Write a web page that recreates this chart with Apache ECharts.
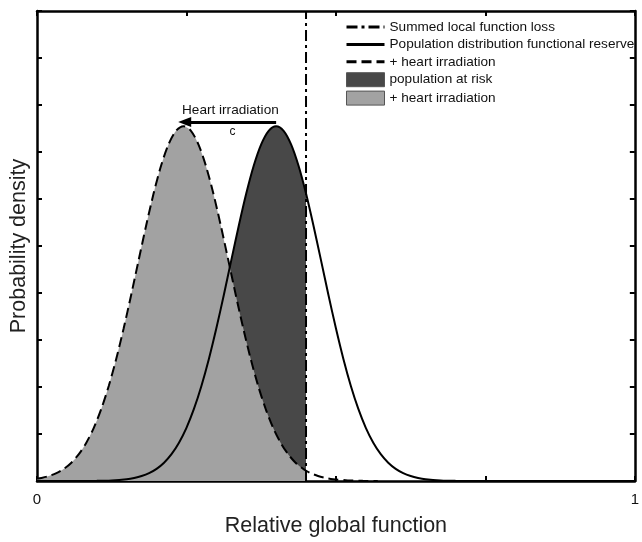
<!DOCTYPE html>
<html><head><meta charset="utf-8">
<script src="https://cdn.jsdelivr.net/npm/echarts@6/dist/echarts.min.js"></script>
<style>html,body{margin:0;padding:0;background:#fff}#c{width:642px;height:542px}</style>
</head><body><div id="c"></div>
<script>
// Population distribution of functional reserve (solid)
const solidX = [0,0.05,0.1,0.125,0.15,
  0.1625,0.175,0.1875,0.2,0.2125,0.225,0.2375,0.25,0.2625,0.275,0.2875,0.3,0.3125,0.325,0.3375,0.35,0.3625,0.375,0.3875,
  0.4,0.4125,0.425,0.4375,0.45,0.4625,0.475,0.4875,0.5,0.5125,0.525,0.5375,0.55,0.5625,0.575,0.5875,0.6,0.6125,0.625,0.6375,
  0.65,0.675,0.7,0.75,0.8,0.9,1];
const solidY = [0,0,0.0004,0.0013,0.0039,
  0.0065,0.0106,0.0168,0.0259,0.0390,0.0571,0.0815,0.1132,0.1533,0.2022,0.2597,0.3249,0.3959,0.4699,0.5431,0.6115,0.6706,0.7162,0.7451,
  0.755,0.7451,0.7162,0.6706,0.6115,0.5431,0.4699,0.3959,0.3249,0.2597,0.2022,0.1533,0.1132,0.0815,0.0571,0.0390,0.0259,0.0168,0.0106,0.0065,
  0.0039,0.0013,0.0004,0,0,0,0];
// + heart irradiation (dashed)
const dashX = [0,0.0075,0.02,0.0325,0.045,0.0575,0.07,0.0825,0.095,0.1075,0.12,0.1325,0.145,0.1575,0.17,0.1825,0.195,0.2075,0.22,0.2325,
  0.245,0.2575,0.27,0.2825,0.295,0.3075,0.32,0.3325,0.345,0.3575,0.37,0.3825,0.395,0.4075,0.42,0.4325,0.445,0.45,0.4575,0.47,0.4825,0.495,0.52,0.545,0.57];
const dashY = [0.0048,0.0065,0.0106,0.0168,0.0259,0.0390,0.0571,0.0815,0.1132,0.1533,0.2022,0.2597,0.3249,0.3959,0.4699,0.5431,0.6115,0.6706,0.7162,0.7451,
  0.755,0.7451,0.7162,0.6706,0.6115,0.5431,0.4699,0.3959,0.3249,0.2597,0.2022,0.1533,0.1132,0.0815,0.0571,0.0390,0.0259,0.0218,0.0168,0.0106,0.0065,0.0039,0.0013,0.0004,0];
// Summed local function loss (vertical dash-dot line)
const lossX = 0.45;
const lossYRange = [0, 1];
// Arrow annotation
const arrowFrom = [0.40, 0.764];
const arrowTo = [0.247, 0.764];
const xTickLabels = {0: '0', 1: '1'};
const names = ['Summed local function loss', 'Population distribution functional reserve', '+ heart irradiation', 'population at risk', '+ heart irradiation '];

const pairs = (xs, ys) => xs.map((x, i) => [x, ys[i]]);
const upTo = (xs, ys, lim) => pairs(xs, ys).filter(p => p[0] <= lim + 1e-9);

const FONT = 'Liberation Sans, Arial, sans-serif';
const chart = echarts.init(document.getElementById('c'), null, {renderer: 'canvas'});
const axisCommon = {
  type: 'value', min: 0, max: 1,
  axisLine: {show: true, onZero: false, lineStyle: {color: '#000', width: 2.5}},
  axisTick: {show: true, inside: true, length: 5, lineStyle: {color: '#000', width: 2}},
  splitLine: {show: false}
};
const hideSym = {color: 'rgba(0,0,0,0)', borderWidth: 0, opacity: 0};
const SM = 0.3;
chart.setOption({
  animation: false,
  backgroundColor: '#fff',
  textStyle: {fontFamily: FONT},
  grid: {left: 37, right: 3, top: 11, bottom: 55, containLabel: false},
  legend: {
    orient: 'vertical', left: 345, top: 20, padding: 0,
    itemWidth: 38, itemHeight: 14, itemGap: 3.4,
    textStyle: {fontSize: 13.6, color: '#111', fontFamily: FONT},
    formatter: n => n.trim(),
    selectedMode: false,
    data: [
      {name: names[0], itemStyle: hideSym, lineStyle: {width: 3}},
      {name: names[1], itemStyle: hideSym, lineStyle: {width: 3}},
      {name: names[2], itemStyle: hideSym, lineStyle: {width: 3}},
      {name: names[3], icon: 'rect', itemStyle: {color: '#484848', borderColor: '#555', borderWidth: 1}},
      {name: names[4], icon: 'rect', itemStyle: {color: '#a2a2a2', borderColor: '#555', borderWidth: 1}}
    ]
  },
  xAxis: [
    Object.assign({}, axisCommon, {
      position: 'bottom', interval: 0.25,
      axisLabel: {show: true, fontSize: 15, color: '#111', margin: 11, fontFamily: FONT,
        formatter: v => (xTickLabels[v] !== undefined ? xTickLabels[v] : '')},
      name: 'Relative global function', nameLocation: 'middle', nameGap: 34,
      nameTextStyle: {fontSize: 21.5, color: '#222', fontFamily: FONT}
    }),
    Object.assign({}, axisCommon, {position: 'top', interval: 0.25, axisLabel: {show: false}})
  ],
  yAxis: [
    Object.assign({}, axisCommon, {
      position: 'left', interval: 0.1, axisLabel: {show: false},
      name: 'Probability density', nameLocation: 'middle', nameGap: 7,
      nameTextStyle: {fontSize: 21.5, color: '#222', fontFamily: FONT}
    }),
    Object.assign({}, axisCommon, {position: 'right', interval: 0.1, axisLabel: {show: false}})
  ],
  series: [
    {name: names[3], type: 'line', smooth: SM, symbol: 'none', z: 1,
      data: upTo(solidX, solidY, lossX), lineStyle: {width: 0}, itemStyle: {color: '#484848'},
      areaStyle: {color: '#484848', opacity: 1}},
    {name: names[4], type: 'line', smooth: SM, symbol: 'none', z: 2,
      data: upTo(dashX, dashY, lossX), lineStyle: {width: 0}, itemStyle: {color: '#a2a2a2'},
      areaStyle: {color: '#a2a2a2', opacity: 1}},
    {name: names[1], type: 'line', smooth: SM, symbol: 'none', z: 3,
      data: pairs(solidX, solidY), lineStyle: {color: '#000', width: 2}, itemStyle: {color: '#000'},
      markLine: {
        silent: true, symbol: ['none', 'triangle'], symbolSize: [10, 13],
        lineStyle: {color: '#000', width: 3, type: 'solid'},
        label: {show: true, position: 'middle', formatter: 'Heart irradiation', fontSize: 13.6, color: '#111', fontFamily: FONT, distance: 5},
        data: [[{coord: arrowFrom}, {coord: arrowTo}]]
      }},
    {name: names[2], type: 'line', smooth: SM, symbol: 'none', z: 4,
      data: pairs(dashX, dashY), lineStyle: {color: '#000', width: 2, type: [10, 5]}, itemStyle: {color: '#000'}},
    {name: names[0], type: 'line', symbol: 'none', z: 5,
      data: [[lossX, lossYRange[0]], [lossX, lossYRange[1]]],
      lineStyle: {color: '#000', width: 2, type: [11, 4, 3, 4]}, itemStyle: {color: '#000'}}
  ]
});
const cPos = chart.convertToPixel({gridIndex: 0}, [(arrowFrom[0] + arrowTo[0]) / 2, arrowFrom[1]]);
chart.setOption({graphic: [{type: 'text', x: cPos[0] + 2, y: cPos[1] + 10, style: {text: 'c', fontSize: 12, fill: '#111', font: '12px ' + FONT, align: 'center', verticalAlign: 'middle'}}]});
</script></body></html>
